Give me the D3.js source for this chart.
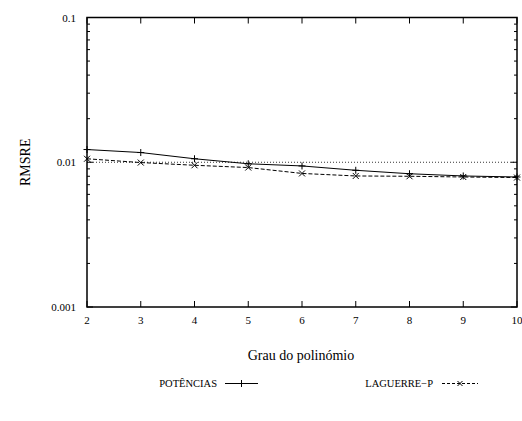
<!DOCTYPE html>
<html><head><meta charset="utf-8">
<script src="https://cdn.jsdelivr.net/npm/d3@7"></script>
<style>body{margin:0;background:#fff}svg{display:block}</style>
</head><body><svg id="c" width="522" height="421"></svg>
<script>
const degrees = [2,3,4,5,6,7,8,9,10];
const potencias = [0.01224,0.01167,0.01057,0.00976,0.00943,0.00880,0.00833,0.00804,0.00791];
const laguerre = [0.01057,0.00995,0.00953,0.00919,0.00837,0.00804,0.00800,0.00791,0.00784];
const yTickValues = [0.001,0.01,0.1];
const yTickLabels = ["0.001","0.01","0.1"];
const refLevel = 0.01;
const seriesNames = ["POTÊNCIAS","LAGUERRE\u2212P"];

const FONT = "Liberation Serif";
const svg = d3.select("#c");
const L=87,R=517,T=17.5,B=307;
const x = d3.scaleLinear().domain([2,10]).range([L,R]);
const y = d3.scaleLog().domain([0.001,0.1]).range([B,T]);

function txt(sel,size){ return sel.append("text").style("font-family",FONT).style("font-size",size+"px").attr("fill","#000"); }

const minor=[];
for(let d=0.001; d<0.1-1e-9; d*=10){ for(let k=2;k<=9;k++) minor.push(d*k); }
const g=svg.append("g");
minor.forEach(v=>{
  g.append("line").attr("x1",L).attr("x2",L+3).attr("y1",y(v)).attr("y2",y(v)).attr("stroke","#000");
  g.append("line").attr("x1",R).attr("x2",R-3).attr("y1",y(v)).attr("y2",y(v)).attr("stroke","#000");
});
yTickValues.forEach((v,i)=>{
  g.append("line").attr("x1",L).attr("x2",L+6).attr("y1",y(v)).attr("y2",y(v)).attr("stroke","#000");
  g.append("line").attr("x1",R).attr("x2",R-6).attr("y1",y(v)).attr("y2",y(v)).attr("stroke","#000");
  txt(g,11).attr("x",L-11).attr("y",y(v)+4).attr("text-anchor","end").text(yTickLabels[i]);
});
degrees.forEach(d=>{
  g.append("line").attr("x1",x(d)).attr("x2",x(d)).attr("y1",B).attr("y2",B-6).attr("stroke","#000");
  g.append("line").attr("x1",x(d)).attr("x2",x(d)).attr("y1",T).attr("y2",T+6).attr("stroke","#000");
  txt(g,11).attr("x",x(d)).attr("y",B+17).attr("text-anchor","middle").text(d);
});

svg.append("line").attr("x1",x(2)).attr("x2",x(10)).attr("y1",y(refLevel)).attr("y2",y(refLevel))
  .attr("stroke","#000").attr("stroke-width",0.8).attr("stroke-dasharray","1,2");

const line = d3.line().x((d,i)=>x(degrees[i])).y(d=>y(d));
svg.append("path").datum(potencias).attr("d",line).attr("fill","none").attr("stroke","#000").attr("stroke-width",1);
svg.append("path").datum(laguerre).attr("d",line).attr("fill","none").attr("stroke","#000").attr("stroke-width",1).attr("stroke-dasharray","4,2");

function plus(sel,cx,cy,s){ sel.append("path").attr("d",`M${cx-s},${cy}H${cx+s}M${cx},${cy-s}V${cy+s}`).attr("stroke","#000").attr("fill","none"); }
function cross(sel,cx,cy,s){ sel.append("path").attr("d",`M${cx-s},${cy-s}L${cx+s},${cy+s}M${cx-s},${cy+s}L${cx+s},${cy-s}`).attr("stroke","#000").attr("fill","none"); }
potencias.forEach((v,i)=>plus(svg,x(degrees[i]),y(v),3.5));
laguerre.forEach((v,i)=>cross(svg,x(degrees[i]),y(v),3));

svg.append("rect").attr("x",L).attr("y",T).attr("width",R-L).attr("height",B-T).attr("fill","none").attr("stroke","#000").attr("stroke-width",1.5);

txt(svg,14).attr("transform",`translate(30,${(T+B)/2}) rotate(-90)`).attr("text-anchor","middle").text("RMSRE");
txt(svg,14).attr("x",301).attr("y",360).attr("text-anchor","middle").text("Grau do polinómio");

txt(svg,10.5).attr("x",217).attr("y",387).attr("text-anchor","end").text(seriesNames[0]);
svg.append("line").attr("x1",225).attr("x2",258).attr("y1",383.5).attr("y2",383.5).attr("stroke","#000");
plus(svg,241.5,383.5,3.5);
txt(svg,10.5).attr("x",433).attr("y",387).attr("text-anchor","end").text(seriesNames[1]);
svg.append("line").attr("x1",442).attr("x2",478).attr("y1",383.5).attr("y2",383.5).attr("stroke","#000").attr("stroke-dasharray","3,2");
cross(svg,460,383.5,2.5);
</script></body></html>
